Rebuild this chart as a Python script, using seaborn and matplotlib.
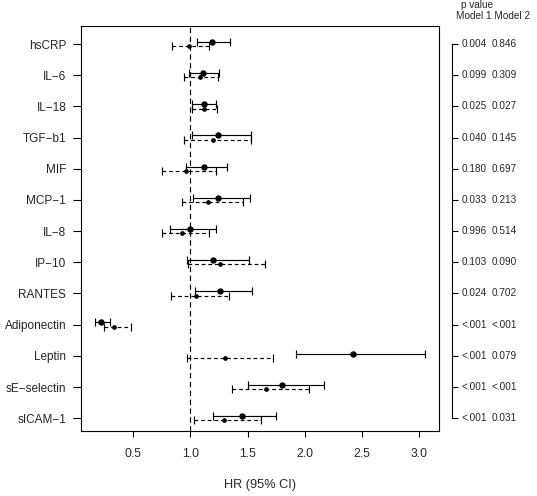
import matplotlib
matplotlib.use('Agg')
import matplotlib.pyplot as plt
import matplotlib.transforms as mtransforms
import numpy as np
import pandas as pd
import seaborn as sns

markers = ['hsCRP', 'IL-6', 'IL-18', 'TGF-b1', 'MIF', 'MCP-1', 'IL-8', 'IP-10',
           'RANTES', 'Adiponectin', 'Leptin', 'sE-selectin', 'sICAM-1']
labels = [m.replace('-', '\u2212') for m in markers]

# model 1 (solid)
hr1 = [1.19, 1.11, 1.12, 1.24, 1.12, 1.24, 1.00, 1.20, 1.26, 0.22, 2.42, 1.80, 1.45]
lo1 = [1.06, 0.99, 1.01, 1.01, 0.96, 1.02, 0.82, 0.97, 1.04, 0.165, 1.92, 1.50, 1.20]
hi1 = [1.35, 1.25, 1.22, 1.53, 1.32, 1.52, 1.22, 1.51, 1.54, 0.30, 3.05, 2.17, 1.745]
# model 2 (dashed)
hr2 = [0.99, 1.08, 1.12, 1.20, 0.96, 1.15, 0.93, 1.26, 1.05, 0.33, 1.30, 1.66, 1.29]
lo2 = [0.84, 0.94, 1.01, 0.94, 0.75, 0.93, 0.75, 0.98, 0.83, 0.24, 0.97, 1.365, 1.03]
hi2 = [1.16, 1.24, 1.23, 1.53, 1.22, 1.46, 1.16, 1.65, 1.34, 0.48, 1.72, 2.035, 1.62]

p1 = ['0.004', '0.099', '0.025', '0.040', '0.180', '0.033', '0.996', '0.103',
      '0.024', '<.001', '<.001', '<.001', '<.001']
p2 = ['0.846', '0.309', '0.027', '0.145', '0.697', '0.213', '0.514', '0.090',
      '0.702', '<.001', '0.079', '<.001', '0.031']

xticks = [0.5, 1.0, 1.5, 2.0, 2.5, 3.0]

sns.set_style('white')
plt.rcParams['font.family'] = ['Liberation Sans', 'DejaVu Sans']

pos = np.arange(len(markers))
df = pd.concat([
    pd.DataFrame({'model': 'Model 1', 'y': pos - 0.07, 'hr': hr1, 'lo': lo1, 'hi': hi1}),
    pd.DataFrame({'model': 'Model 2', 'y': pos + 0.07, 'hr': hr2, 'lo': lo2, 'hi': hi2}),
])

fig = plt.figure(figsize=(5.37, 4.96), dpi=100)
ax = fig.add_axes([0.1503, 0.1317, 0.8175 - 0.1503, 0.9476 - 0.1317])

styles = {'Model 1': ('-', 4.6), 'Model 2': ((0, (3.2, 2.4)), 3.4)}
for model, (ls, ms) in styles.items():
    d = df[df.model == model]
    eb = ax.errorbar(d.hr, d.y, xerr=[d.hr - d.lo, d.hi - d.hr], fmt='none',
                     ecolor='black', elinewidth=0.85, capsize=3.2, capthick=0.85)
    eb[2][0].set_linestyle(ls)
    sns.scatterplot(data=d, x='hr', y='y', color='black', s=ms ** 2,
                    edgecolor='black', linewidth=0, ax=ax, zorder=3)

ax.axvline(1.0, color='black', lw=0.85, ls=(0, (4.5, 3)))

ax.set_xlim(0.04, 3.175)
ax.set_ylim(len(markers) - 1 + 0.40, -0.58)
ax.set_xticks(xticks)
ax.set_xticklabels([f'{t:.1f}' for t in xticks])
ax.set_yticks(pos)
ax.set_yticklabels(labels)
ax.set_xlabel('HR (95% CI)', fontsize=9.2, labelpad=14)
ax.set_ylabel('')

for s in ['left', 'top', 'bottom']:
    ax.spines[s].set_color('black')
    ax.spines[s].set_linewidth(0.8)
ax.spines['right'].set_position(('outward', 9.4))
ax.spines['right'].set_bounds(0, len(markers) - 1)
ax.spines['right'].set_color('black')
ax.spines['right'].set_linewidth(0.8)
ax.plot([1, 1], [0, 1], transform=ax.transAxes, color='black', lw=0.8, clip_on=False)

ax.tick_params(axis='y', left=True, right=True, labelright=False, direction='out',
               length=5.5, width=0.8, pad=5, labelsize=8.5, color='black')
for t in ax.yaxis.get_major_ticks():
    t.tick2line.set_markersize(4.3)
ax.tick_params(axis='x', bottom=True, direction='out', length=4.5, width=0.8,
               pad=8, labelsize=8.7, color='black')

trans = mtransforms.blended_transform_factory(fig.transFigure, ax.transData)
for i in range(len(markers)):
    ax.text(462 / 537, pos[i], p1[i], transform=trans, fontsize=7.2, va='center', ha='left')
    ax.text(492 / 537, pos[i], p2[i], transform=trans, fontsize=7.2, va='center', ha='left')

fig.text(477.5 / 537, 1 - 5 / 496, 'p value', fontsize=7.2, ha='center', va='center')
fig.text(492.5 / 537, 1 - 16 / 496, 'Model 1 Model 2', fontsize=7.2, ha='center', va='center')

fig.savefig('out.png', dpi=100)
